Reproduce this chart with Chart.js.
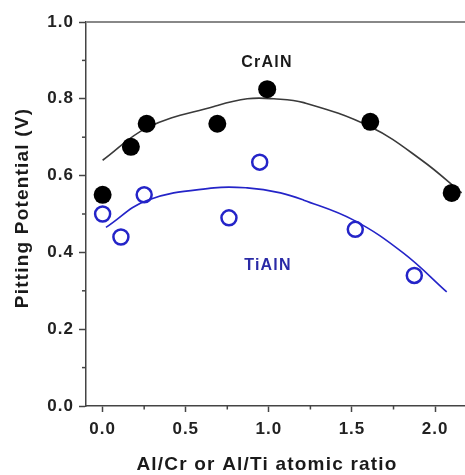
<!DOCTYPE html>
<html lang="en">
<head>
    <meta charset="UTF-8">
    <title>Pitting Potential vs atomic ratio</title>
    <script src="https://cdn.jsdelivr.net/npm/chart.js"></script>
    <style>
        body { margin: 0; background: #fff; overflow: hidden; }
    </style>
</head>
<body>
    <canvas id="pitChart" width="465" height="475"></canvas>
    <script>
        const crAlnX = [0.0, 0.17, 0.265, 0.69, 0.99, 1.61, 2.10];
        const crAlnY = [0.55, 0.675, 0.735, 0.735, 0.825, 0.74, 0.555];
        const tiAlnX = [0.0, 0.11, 0.25, 0.76, 0.945, 1.52, 1.875];
        const tiAlnY = [0.50, 0.44, 0.55, 0.49, 0.635, 0.46, 0.34];

        // Trend curves
        const crFitX = [0.0, 0.27, 0.67, 0.87, 1.03, 1.21, 1.61, 1.92, 2.16];
        const crFitY = [0.64, 0.725, 0.78, 0.80, 0.80, 0.79, 0.727, 0.64, 0.555];
        const tiFitX = [0.02, 0.27, 0.67, 0.87, 1.07, 1.21, 1.51, 1.81, 2.07];
        const tiFitY = [0.465, 0.536, 0.568, 0.568, 0.555, 0.536, 0.484, 0.398, 0.297];

        // Axis ticks
        const xMajorTicks = [0, 0.5, 1.0, 1.5, 2.0];
        const xMinorTicks = [0.25, 0.75, 1.25, 1.75];
        const yMajorTicks = [0, 0.2, 0.4, 0.6, 0.8, 1.0];
        const yMinorTicks = [0.1, 0.3, 0.5, 0.7, 0.9];

        const toPoints = (xs, ys) => xs.map((x, i) => ({ x: x, y: ys[i] }));
        const FONT = '"Liberation Sans", Arial, sans-serif';
        const BLUE = '#2424c8';

        // the figure's lettering is wide, spread it a little
        const wideText = {
            id: 'wideText',
            beforeDraw(chart) { chart.ctx.letterSpacing = '1px'; }
        };

        // minor ticks, top frame line and text labels
        const decorations = {
            id: 'decorations',
            afterDraw(chart) {
                const { ctx, chartArea, scales } = chart;
                ctx.save();
                ctx.strokeStyle = '#444';
                ctx.lineWidth = 1.5;
                xMinorTicks.forEach(v => {
                    const px = scales.x.getPixelForValue(v);
                    ctx.beginPath();
                    ctx.moveTo(px, chartArea.bottom);
                    ctx.lineTo(px, chartArea.bottom + 3.5);
                    ctx.stroke();
                });
                yMinorTicks.forEach(v => {
                    const py = scales.y.getPixelForValue(v);
                    ctx.beginPath();
                    ctx.moveTo(chartArea.left, py);
                    ctx.lineTo(chartArea.left - 4, py);
                    ctx.stroke();
                });
                // top frame line
                ctx.strokeStyle = '#888';
                ctx.lineWidth = 2;
                ctx.beginPath();
                ctx.moveTo(chartArea.left, chartArea.top);
                ctx.lineTo(chartArea.right, chartArea.top);
                ctx.stroke();

                ctx.letterSpacing = '1.2px';
                ctx.textAlign = 'center';
                ctx.textBaseline = 'middle';
                ctx.font = 'bold 16px ' + FONT;
                ctx.fillStyle = '#1a1a1a';
                ctx.fillText('CrAlN', 267, 63);
                ctx.fillStyle = '#2a2aa6';
                ctx.fillText('TiAlN', 268, 266);

                ctx.fillStyle = '#1a1a1a';
                ctx.font = 'bold 19px ' + FONT;
                ctx.fillText('Al/Cr or Al/Ti atomic ratio', 267, 465);
                ctx.translate(23, 208);
                ctx.rotate(-Math.PI / 2);
                ctx.fillText('Pitting Potential (V)', 0, 0);
                ctx.restore();
            }
        };

        const ctx = document.getElementById('pitChart').getContext('2d');
        new Chart(ctx, {
            type: 'scatter',
            data: {
                datasets: [
                    {
                        label: 'CrAlN',
                        data: toPoints(crAlnX, crAlnY),
                        backgroundColor: '#000',
                        borderWidth: 0,
                        pointRadius: 9,
                        pointHoverRadius: 9
                    },
                    {
                        label: 'TiAlN',
                        data: toPoints(tiAlnX, tiAlnY),
                        backgroundColor: 'rgba(255,255,255,0)',
                        borderColor: BLUE,
                        borderWidth: 2.5,
                        pointRadius: 7.5,
                        pointHoverRadius: 7.5
                    },
                    {
                        label: 'CrAlN fit',
                        type: 'line',
                        data: toPoints(crFitX, crFitY),
                        borderColor: '#3a3a3a',
                        borderWidth: 1.6,
                        pointRadius: 0,
                        tension: 0.4,
                        fill: false
                    },
                    {
                        label: 'TiAlN fit',
                        type: 'line',
                        data: toPoints(tiFitX, tiFitY),
                        borderColor: BLUE,
                        borderWidth: 1.6,
                        pointRadius: 0,
                        tension: 0.4,
                        fill: false
                    }
                ]
            },
            options: {
                responsive: false,
                animation: false,
                events: [],
                layout: { autoPadding: false, padding: { top: 22, right: 0, left: 0, bottom: 0 } },
                plugins: {
                    legend: { display: false },
                    tooltip: { enabled: false }
                },
                scales: {
                    x: {
                        type: 'linear',
                        min: -0.1,
                        max: 2.18,
                        afterBuildTicks: axis => { axis.ticks = xMajorTicks.map(v => ({ value: v })); },
                        afterFit: axis => {
                            axis.height = 69;
                            axis.paddingLeft = 0;
                            axis.paddingRight = 0;
                        },
                        grid: { drawOnChartArea: false, drawTicks: true, tickLength: 6, tickColor: '#444', tickWidth: 1.5 },
                        border: { display: true, color: '#444', width: 1.5 },
                        ticks: {
                            padding: 7,
                            color: '#222',
                            font: { family: FONT, size: 17, weight: 'bold' },
                            callback: v => v.toFixed(1)
                        }
                    },
                    y: {
                        min: 0,
                        max: 1.0,
                        afterBuildTicks: axis => { axis.ticks = yMajorTicks.map(v => ({ value: v })); },
                        afterFit: axis => { axis.width = 86; },
                        grid: { drawOnChartArea: false, drawTicks: true, tickLength: 7, tickColor: '#444', tickWidth: 1.5 },
                        border: { display: true, color: '#444', width: 1.5 },
                        ticks: {
                            padding: 5,
                            color: '#222',
                            font: { family: FONT, size: 17, weight: 'bold' },
                            callback: v => v.toFixed(1)
                        }
                    }
                }
            },
            plugins: [wideText, decorations]
        });
    </script>
</body>
</html>
